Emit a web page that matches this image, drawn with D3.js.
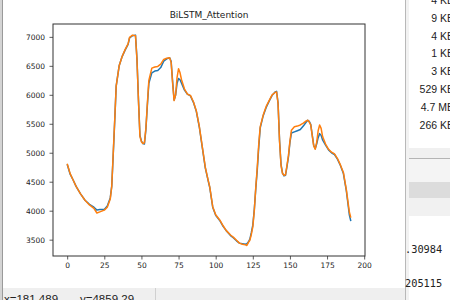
<!DOCTYPE html>
<html>
<head>
<meta charset="utf-8">
<script src="https://cdn.jsdelivr.net/npm/d3@7"></script>
<style>
  body { margin: 0; background: #fff; }
  svg { display: block; }
  .axis text { font-family: "DejaVu Sans", sans-serif; font-size: 7.5px; fill: #222; }
  .axis line { stroke: #333; stroke-width: 0.8; }
  .axis path { display: none; }
  .title { font-family: "DejaVu Sans", sans-serif; font-size: 9px; fill: #222; }
  .ui { font-family: "Liberation Sans", sans-serif; font-size: 10.5px; fill: #222; }
  .mono { font-family: "DejaVu Sans Mono", monospace; font-size: 10.3px; fill: #222; }
</style>
</head>
<body>
<svg id="chart" width="450" height="300"></svg>
<script>
// data (sample index, two series)
const steps = [0, 2, 4, 6, 9, 12, 15, 18, 20, 22, 25, 27, 29, 30, 31, 32, 33, 35, 37, 39, 41, 42, 44, 46, 47, 48, 49, 50, 51, 52, 53, 54, 55, 57, 59, 61, 63, 65, 67, 69, 70, 71, 72, 73, 74, 75, 76, 77, 79, 81, 83, 85, 87, 89, 91, 93, 95, 96, 98, 100, 103, 105, 107, 110, 112, 114, 116, 118, 120, 121, 122, 123, 124, 125, 126, 127, 128, 129, 130, 132, 134, 136, 138, 140, 141, 142, 143, 144, 145, 146, 147, 148, 149, 150, 151, 153, 155, 157, 159, 161, 162, 163, 164, 165, 166, 167, 168, 169, 170, 171, 172, 174, 176, 178, 180, 182, 184, 186, 188, 190, 191];
const actual = [4800, 4630, 4530, 4420, 4290, 4180, 4110, 4060, 4010, 4020, 4020, 4080, 4220, 4420, 4960, 5540, 6150, 6500, 6660, 6770, 6870, 6980, 7020, 7030, 6620, 5920, 5300, 5200, 5160, 5150, 5400, 5820, 6200, 6380, 6410, 6420, 6470, 6580, 6620, 6640, 6580, 6230, 5910, 5990, 6200, 6280, 6260, 6200, 6080, 6010, 5980, 5870, 5710, 5440, 5090, 4740, 4510, 4400, 4060, 3920, 3820, 3730, 3660, 3570, 3530, 3480, 3440, 3430, 3420, 3430, 3460, 3510, 3620, 3750, 4020, 4380, 4700, 5100, 5430, 5640, 5780, 5890, 5990, 6050, 6060, 5860, 5220, 4800, 4650, 4600, 4610, 4760, 4930, 5180, 5340, 5360, 5380, 5400, 5460, 5530, 5560, 5540, 5490, 5310, 5130, 5070, 5150, 5260, 5330, 5300, 5220, 5130, 5050, 5000, 4970, 4890, 4780, 4640, 4340, 3930, 3820];
const predicted = [4810, 4640, 4530, 4420, 4290, 4180, 4100, 4040, 3960, 3980, 4010, 4060, 4200, 4420, 4990, 5560, 6150, 6500, 6660, 6780, 6880, 6990, 7030, 7020, 6600, 5900, 5280, 5190, 5160, 5170, 5420, 5850, 6250, 6460, 6480, 6490, 6530, 6610, 6630, 6640, 6560, 6200, 5900, 6000, 6300, 6450, 6380, 6260, 6100, 6010, 5990, 5880, 5720, 5450, 5100, 4750, 4520, 4410, 4070, 3930, 3830, 3740, 3660, 3580, 3540, 3490, 3440, 3420, 3410, 3400, 3450, 3490, 3590, 3720, 4000, 4400, 4750, 5150, 5450, 5650, 5800, 5900, 6000, 6040, 6050, 5850, 5200, 4780, 4640, 4610, 4620, 4780, 4950, 5200, 5390, 5450, 5460, 5480, 5510, 5550, 5560, 5530, 5480, 5300, 5120, 5060, 5180, 5380, 5480, 5420, 5280, 5150, 5060, 5010, 4980, 4900, 4790, 4660, 4360, 3980, 3880];
const xTicks = [0, 25, 50, 75, 100, 125, 150, 175, 200];
const yTicks = [3500, 4000, 4500, 5000, 5500, 6000, 6500, 7000];
const chartTitle = "BiLSTM_Attention";

// surrounding window text
const sizeLabels = ["4 KB", "9 KB", "4 KB", "1 KB", "3 KB", "529 KB", "4.7 MB", "266 KB"];
const cellLabels = [".30984", "205115"];
const statusText = ["x=181.489", "y=4859.29"];

const svg = d3.select("#chart");

// ---- window chrome ----
svg.append("rect").attr("x", 0).attr("y", 0).attr("width", 3).attr("height", 300).attr("fill", "#d4d4d4");
svg.append("line").attr("x1", 2.5).attr("x2", 2.5).attr("y1", 0).attr("y2", 300).attr("stroke", "#9a9a9a");

// status bar
svg.append("rect").attr("x", 3).attr("y", 288).attr("width", 402).attr("height", 12).attr("fill", "#efefef");
svg.append("line").attr("x1", 155.5).attr("x2", 155.5).attr("y1", 288).attr("y2", 300).attr("stroke", "#d0d0d0");
svg.append("text").attr("class", "ui").attr("x", 4).attr("y", 303).style("font-size", "11.5px").text(statusText[0]);
svg.append("text").attr("class", "ui").attr("x", 80).attr("y", 303).style("font-size", "11.5px").text(statusText[1]);

// right-hand panel
svg.append("rect").attr("x", 405).attr("y", 148).attr("width", 45).attr("height", 10).attr("fill", "#f0f0f0");
svg.append("line").attr("x1", 405).attr("x2", 450).attr("y1", 158.5).attr("y2", 158.5).attr("stroke", "#b4b4b4");
svg.append("rect").attr("x", 405).attr("y", 159).attr("width", 45).attr("height", 23).attr("fill", "#f4f4f4");
svg.append("rect").attr("x", 405).attr("y", 182).attr("width", 45).attr("height", 16).attr("fill", "#dcdcdc");
svg.append("rect").attr("x", 405).attr("y", 198).attr("width", 45).attr("height", 18).attr("fill", "#f1f1f1");
svg.append("line").attr("x1", 405.5).attr("x2", 405.5).attr("y1", 0).attr("y2", 300).attr("stroke", "#b8b8b8");
svg.append("rect").attr("x", 406).attr("y", 0).attr("width", 3).attr("height", 300).attr("fill", "#f2f2f2");

svg.selectAll("text.size")
  .data(sizeLabels)
  .enter().append("text")
  .attr("class", "ui size")
  .attr("x", 454)
  .attr("y", (d, i) => 4 + i * 17.8)
  .attr("text-anchor", "end")
  .text(d => d);

svg.selectAll("text.cell")
  .data(cellLabels)
  .enter().append("text")
  .attr("class", "mono cell")
  .attr("x", 405)
  .attr("y", (d, i) => 253 + i * 34)
  .text(d => d);

// ---- plot ----
const margin = { top: 24, right: 85, bottom: 44, left: 53 },
      width  = 450 - margin.left - margin.right,
      height = 300 - margin.top - margin.bottom;

const xScale = d3.scaleLinear().domain([-9.55, 200.55]).range([0, width]);
const yScale = d3.scaleLinear().domain([3218, 7222]).range([height, 0]);

const g = svg.append("g").attr("transform", `translate(${margin.left}, ${margin.top})`);

g.append("g")
  .attr("class", "axis")
  .attr("transform", `translate(0, ${height})`)
  .call(d3.axisBottom(xScale).tickValues(xTicks).tickSize(3.5).tickPadding(3.5).tickFormat(d3.format("d")));

g.append("g")
  .attr("class", "axis")
  .call(d3.axisLeft(yScale).tickValues(yTicks).tickSize(3.5).tickPadding(4.5).tickFormat(d3.format("d")));

const line = d3.line()
  .x(d => xScale(d[0]))
  .y(d => yScale(d[1]));

g.append("path")
  .datum(steps.map((s, i) => [s, actual[i]]))
  .attr("fill", "none")
  .attr("stroke", "#1f77b4")
  .attr("stroke-width", 1.5)
  .attr("stroke-linejoin", "round")
  .attr("d", line);

g.append("path")
  .datum(steps.map((s, i) => [s, predicted[i]]))
  .attr("fill", "none")
  .attr("stroke", "#ff7f0e")
  .attr("stroke-width", 1.5)
  .attr("stroke-linejoin", "round")
  .attr("d", line);

// frame
g.append("rect")
  .attr("width", width)
  .attr("height", height)
  .attr("fill", "none")
  .attr("stroke", "#333")
  .attr("stroke-width", 1);

g.append("text")
  .attr("class", "title")
  .attr("x", width / 2)
  .attr("y", -6)
  .attr("text-anchor", "middle")
  .text(chartTitle);
</script>
</body>
</html>
